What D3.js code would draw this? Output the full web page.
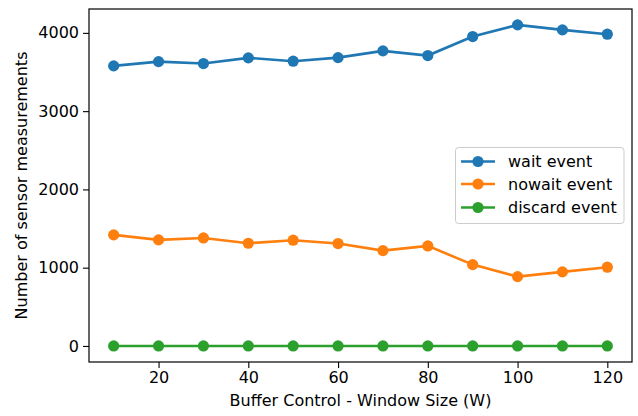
<!DOCTYPE html>
<html>
<head>
<meta charset="utf-8">
<script src="https://cdn.jsdelivr.net/npm/d3@7"></script>
<style>
  html, body { margin: 0; padding: 0; background: #fff; }
  svg text { font-family: "DejaVu Sans", sans-serif; fill: #000; }
</style>
</head>
<body>
<svg id="chart" width="638" height="416"></svg>
<script>
// Window sizes on the x axis
const windowSizes = [10, 20, 30, 40, 50, 60, 70, 80, 90, 100, 110, 120];

// Sensor measurement counts per event type
const waitEvent    = [3578, 3633, 3608, 3681, 3638, 3684, 3770, 3710, 3953, 4102, 4038, 3983];
const nowaitEvent  = [1419, 1355, 1380, 1312, 1351, 1308, 1218, 1278, 1039, 886, 946, 1006];
const discardEvent = [0, 0, 0, 0, 0, 0, 0, 0, 0, 0, 0, 0];

const seriesNames  = ["wait event", "nowait event", "discard event"];
const seriesColors = ["#1f77b4", "#ff7f0e", "#2ca02c"];

const xTicks = [20, 40, 60, 80, 100, 120];
const yTicks = [0, 1000, 2000, 3000, 4000];

const series = [waitEvent, nowaitEvent, discardEvent].map((vals, i) => ({
  name: seriesNames[i],
  color: seriesColors[i],
  points: vals.map((v, j) => ({ x: windowSizes[j], y: v }))
}));

const plot = { left: 89, top: 9, right: 632, bottom: 362 };
const fontSize = 16;

const svg = d3.select("#chart");

const x = d3.scaleLinear().domain([4.5, 125.5]).range([plot.left, plot.right]);
const y = d3.scaleLinear().domain([-205, 4305]).range([plot.bottom, plot.top]);

// Axes
const xAxis = d3.axisBottom(x).tickValues(xTicks).tickFormat(d3.format("d"))
  .tickSize(6).tickPadding(4).tickSizeOuter(0);
const yAxis = d3.axisLeft(y).tickValues(yTicks).tickFormat(d3.format("d"))
  .tickSize(6).tickPadding(4).tickSizeOuter(0);

const gx = svg.append("g").attr("transform", `translate(0,${plot.bottom})`).call(xAxis);
const gy = svg.append("g").attr("transform", `translate(${plot.left},0)`).call(yAxis);
[gx, gy].forEach(g => {
  g.select(".domain").remove();
  g.selectAll(".tick line").attr("stroke", "#000").attr("stroke-width", 1.1);
  g.selectAll(".tick text").attr("font-size", fontSize).attr("font-family", "DejaVu Sans").attr("fill", "#000");
});

// Series lines and markers
const line = d3.line().x(d => x(d.x)).y(d => y(d.y));
const gSeries = svg.append("g");
series.forEach(s => {
  gSeries.append("path")
    .datum(s.points)
    .attr("d", line)
    .attr("fill", "none")
    .attr("stroke", s.color)
    .attr("stroke-width", 2.6);
  gSeries.selectAll(null)
    .data(s.points)
    .enter().append("circle")
    .attr("cx", d => x(d.x))
    .attr("cy", d => y(d.y))
    .attr("r", 5.6)
    .attr("fill", s.color);
});

// Frame
svg.append("rect")
  .attr("x", plot.left).attr("y", plot.top)
  .attr("width", plot.right - plot.left).attr("height", plot.bottom - plot.top)
  .attr("fill", "none").attr("stroke", "#000").attr("stroke-width", 1.2);

// Axis titles
svg.append("text")
  .attr("x", (plot.left + plot.right) / 2).attr("y", 406)
  .attr("text-anchor", "middle").attr("font-size", fontSize)
  .text("Buffer Control - Window Size (W)");

svg.append("text")
  .attr("transform", `translate(27,${(plot.top + plot.bottom) / 2}) rotate(-90)`)
  .attr("text-anchor", "middle").attr("font-size", fontSize)
  .text("Number of sensor measurements");

// Legend
const legend = svg.append("g");
legend.append("rect")
  .attr("x", 455.5).attr("y", 147.5).attr("width", 168.5).attr("height", 76)
  .attr("rx", 3).attr("fill", "#fff").attr("fill-opacity", 0.8)
  .attr("stroke", "#ccc").attr("stroke-width", 1);
const rowY = [161.5, 184, 207.5];
series.forEach((s, i) => {
  legend.append("line")
    .attr("x1", 461).attr("x2", 495).attr("y1", rowY[i]).attr("y2", rowY[i])
    .attr("stroke", s.color).attr("stroke-width", 2.6);
  legend.append("circle").attr("cx", 478).attr("cy", rowY[i]).attr("r", 5.6).attr("fill", s.color);
  legend.append("text")
    .attr("x", 508).attr("y", rowY[i]).attr("dy", "0.35em")
    .attr("font-size", fontSize).text(s.name);
});
</script>
</body>
</html>
